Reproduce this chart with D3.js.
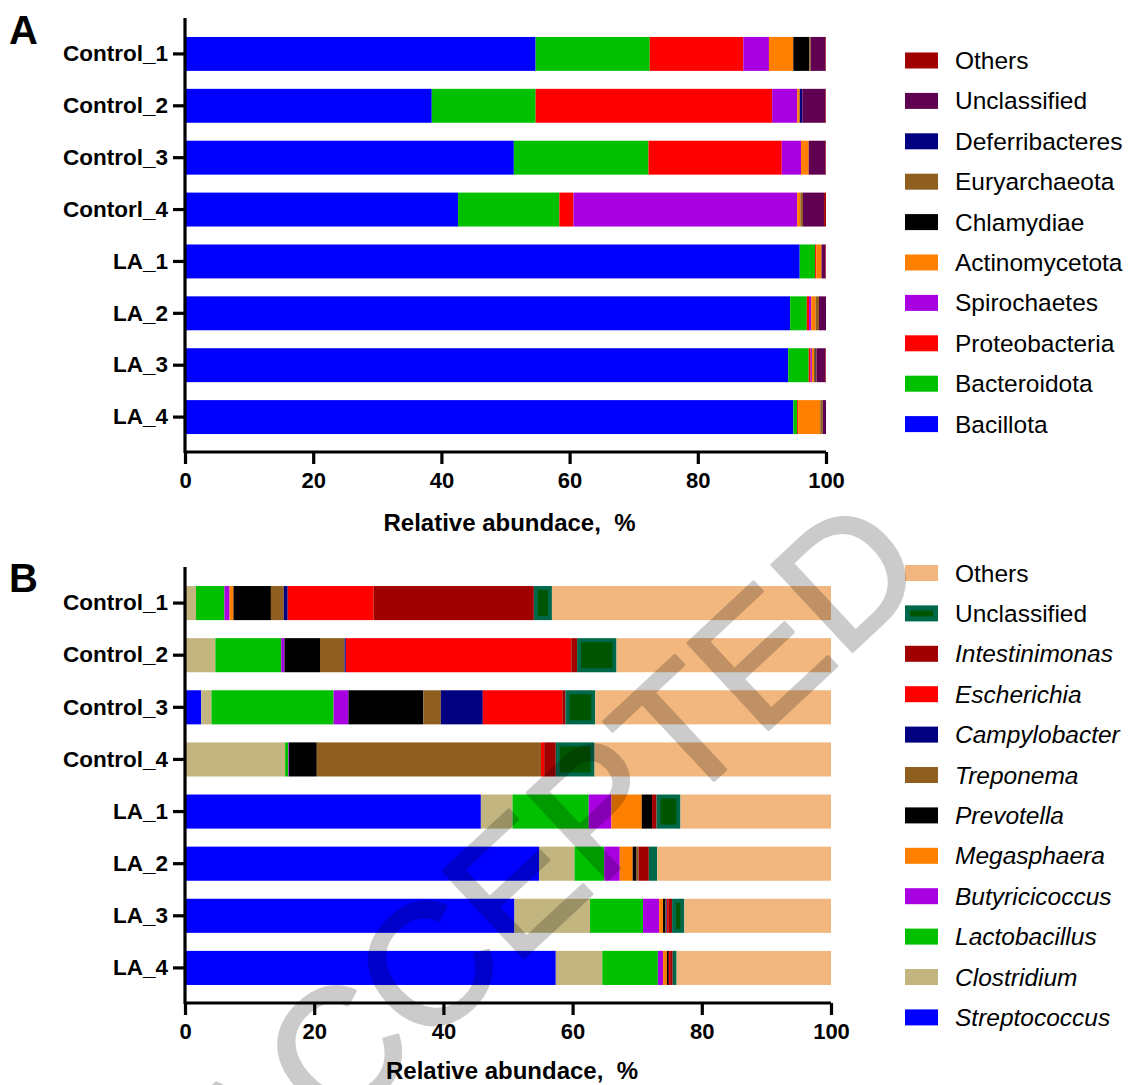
<!DOCTYPE html>
<html><head><meta charset="utf-8">
<script src="https://cdn.jsdelivr.net/npm/d3@7/dist/d3.min.js"></script>
<style>body{margin:0;background:#fff}svg{display:block;font-family:"Liberation Sans",Arial,sans-serif}</style>
</head><body>
<script>
// ---------- Panel A data (phylum level) ----------
const samplesA = ["Control_1","Control_2","Control_3","Contorl_4","LA_1","LA_2","LA_3","LA_4"];
const phylaA = ["Bacillota","Bacteroidota","Proteobacteria","Spirochaetes","Actinomycetota","Chlamydiae","Euryarchaeota","Deferribacteres","Unclassified","Others"];
const colorsA = ["#0000FF","#00C000","#FF0000","#A800E0","#FF8000","#000000","#8F5F1F","#000080","#600050","#A00000"];
const bacillota      = [54.7, 38.5, 51.3, 42.6, 95.9, 94.4, 94.1, 94.9];
const bacteroidota   = [17.8, 16.2, 21.0, 15.8, 2.4, 2.6, 3.2, 0.6];
const proteobacteria = [14.6, 36.9, 20.8, 2.2, 0.2, 0.35, 0.3, 0.15];
const spirochaetes   = [4.0, 3.9, 3.0, 34.9, 0, 0.35, 0.2, 0];
const actinomycetota = [3.8, 0.4, 1.2, 0.5, 0.8, 0.7, 0.4, 3.45];
const chlamydiae     = [2.5, 0, 0, 0, 0, 0, 0.2, 0];
const euryarchaeota  = [0.2, 0, 0, 0.4, 0, 0.5, 0.1, 0.4];
const deferribacteres= [0, 0.4, 0, 0, 0, 0, 0, 0];
const unclassifiedA  = [2.3, 3.6, 2.6, 3.3, 0.6, 1.1, 1.4, 0.5];
const othersA        = [0.1, 0.1, 0.1, 0.3, 0.1, 0, 0.1, 0];
const valuesA = [bacillota,bacteroidota,proteobacteria,spirochaetes,actinomycetota,chlamydiae,euryarchaeota,deferribacteres,unclassifiedA,othersA];

// ---------- Panel B data (genus level) ----------
const samplesB = ["Control_1","Control_2","Control_3","Control_4","LA_1","LA_2","LA_3","LA_4"];
const generaB = ["Streptococcus","Clostridium","Lactobacillus","Butyricicoccus","Megasphaera","Prevotella","Treponema","Campylobacter","Escherichia","Intestinimonas","Unclassified","Others"];
const italicB = [true,true,true,true,true,true,true,true,true,true,false,false];
const colorsB = ["#0000FF","#C2B57F","#00C000","#A800E0","#FF8000","#000000","#8F5F1F","#000080","#FF0000","#A00000","#00684A","#F1B77F"];
const streptococcus  = [0, 0, 2.5, 0, 45.8, 54.8, 51.0, 57.4];
const clostridium    = [1.7, 4.7, 1.6, 15.5, 4.9, 5.5, 11.7, 7.2];
const lactobacillus  = [4.4, 10.2, 18.9, 0.5, 11.8, 4.6, 8.2, 8.6];
const butyricicoccus = [0.8, 0.5, 2.3, 0.1, 3.5, 2.4, 2.5, 0.8];
const megasphaera    = [0.6, 0, 0, 0, 4.7, 2.0, 0.6, 0.6];
const prevotella     = [5.8, 5.5, 11.6, 4.3, 1.6, 0.6, 0.4, 0.3];
const treponema      = [2.0, 3.8, 2.7, 34.7, 0, 0.3, 0.1, 0];
const campylobacter  = [0.6, 0.2, 6.5, 0, 0, 0, 0.1, 0];
const escherichia    = [13.3, 34.9, 12.3, 0.5, 0, 0, 0.2, 0.2];
const intestinimonas = [24.8, 0.9, 0.5, 1.8, 0.7, 1.6, 0.6, 0.4];
const unclassifiedB  = [2.8, 6.1, 4.6, 6.0, 3.7, 1.3, 1.9, 0.6];
const othersB        = [43.2, 33.2, 36.5, 36.6, 23.3, 26.9, 22.7, 23.9];
const valuesB = [streptococcus,clostridium,lactobacillus,butyricicoccus,megasphaera,prevotella,treponema,campylobacter,escherichia,intestinimonas,unclassifiedB,othersB];

const xTicks = [0,20,40,60,80,100];
const axisTitle = "Relative abundace,  %";

const svg = d3.select("body").append("svg").attr("width",1132).attr("height",1085);

function panel(cfg){
  const {samples, keys, colors, values, x0, x1, yTop, yAxis, label, labelY, legendY, italic, innerKey} = cfg;
  const g = svg.append("g");
  const x = d3.scaleLinear().domain([0,100]).range([x0,x1]);
  const y = d3.scaleBand().domain(samples).range([yTop, yAxis]).paddingInner(0.346).paddingOuter(0.346);
  const rows = samples.map((s,i)=>{const r={sample:s}; keys.forEach((k,j)=>r[k]=values[j][i]); return r;});
  const series = d3.stack().keys(keys)(rows);
  series.forEach((ser,j)=>{
    const gg = g.append("g");
    gg.selectAll("rect").data(ser).join("rect")
      .attr("x",d=>x(d[0])).attr("width",d=>Math.max(0,x(d[1])-x(d[0])))
      .attr("y",d=>y(d.data.sample)).attr("height",y.bandwidth())
      .attr("fill",colors[j]);
    if (keys[j]===innerKey){
      gg.selectAll("rect.inner").data(ser.filter(d=>x(d[1])-x(d[0])>9)).join("rect").attr("class","inner")
        .attr("x",d=>x(d[0])+4).attr("width",d=>x(d[1])-x(d[0])-8)
        .attr("y",d=>y(d.data.sample)+4).attr("height",y.bandwidth()-8)
        .attr("fill","#005600");
    }
  });
  // axes
  const ax = g.append("g").attr("transform",`translate(0,${yAxis})`)
    .call(d3.axisBottom(x).tickValues(xTicks).tickSize(12).tickSizeOuter(0).tickPadding(8));
  ax.select(".domain").attr("stroke","#000").attr("stroke-width",3.2).attr("d",`M${x0},0H${x1}`);
  ax.selectAll(".tick line").attr("stroke","#000").attr("stroke-width",3.2);
  ax.selectAll(".tick text").attr("font-size",22).attr("font-weight","bold").attr("fill","#000").attr("font-family","Liberation Sans, Arial");
  const ay = g.append("g").attr("transform",`translate(${x0},0)`)
    .call(d3.axisLeft(y).tickSize(12).tickSizeOuter(0).tickPadding(5));
  ay.select(".domain").attr("stroke","#000").attr("stroke-width",3.2).attr("d",`M0,${yTop-1}V${yAxis+1}`);
  ay.selectAll(".tick line").attr("stroke","#000").attr("stroke-width",3.2);
  ay.selectAll(".tick text").attr("font-size",22.5).attr("font-weight","bold").attr("fill","#000").attr("font-family","Liberation Sans, Arial");
  g.append("text").attr("x",(x0+x1)/2 + 4).attr("y",Math.min(yAxis+79, 1079)).attr("text-anchor","middle")
    .style("white-space","pre").attr("xml:space","preserve")
    .attr("font-size",24).attr("font-weight","bold").text(axisTitle);
  g.append("text").attr("x",9).attr("y",labelY).attr("font-size",40).attr("font-weight","bold").text(label);
  // legend (reversed order, top = last key)
  const leg = g.append("g");
  const order = keys.map((k,i)=>i).reverse();
  order.forEach((j,r)=>{
    const cy = legendY + r*40.4;
    leg.append("rect").attr("x",905).attr("y",cy-8).attr("width",33).attr("height",16).attr("fill",colors[j]);
    if (keys[j]===innerKey) leg.append("rect").attr("x",910).attr("y",cy-3).attr("width",23).attr("height",6).attr("fill","#005600");
    leg.append("text").attr("x",955).attr("y",cy+8.5).attr("font-size",24.5)
      .attr("font-style", italic && italic[j] ? "italic" : "normal").text(keys[j]);
  });
}

panel({samples:samplesA, keys:phylaA, colors:colorsA, values:valuesA, x0:185, x1:826, yTop:19, yAxis:452,
  label:"A", labelY:44, legendY:60.5});
panel({samples:samplesB, keys:generaB, colors:colorsB, values:valuesB, x0:185, x1:831, yTop:568, yAxis:1003,
  label:"B", labelY:592, legendY:573, italic:italicB, innerKey:"Unclassified"});

// watermark (uniform translucent grey)
svg.append("g").attr("opacity",0.2)
  .append("text").attr("transform","translate(248,1215) rotate(-43)")
  .attr("font-size",172).attr("fill","#000")
  .attr("stroke","#000").attr("stroke-width",3).attr("stroke-linejoin","round")
  .attr("font-family","Liberation Sans, Arial").text("ACCEPTED");
</script>
</body></html>
